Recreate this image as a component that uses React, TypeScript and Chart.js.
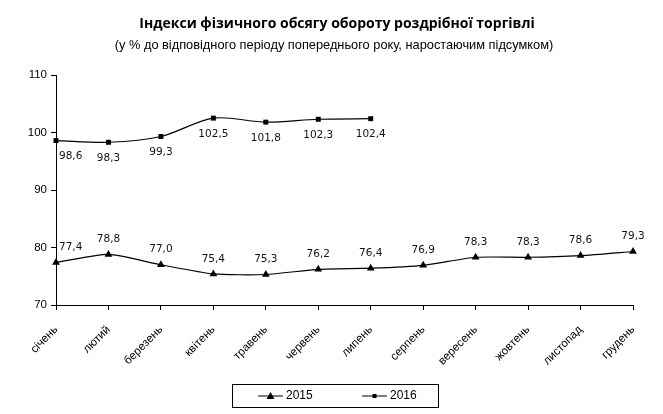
import React, { useEffect, useRef } from "react";
import { Chart, registerables } from "chart.js";

Chart.register(...registerables);

const titleText = "Індекси фізичного обсягу обороту роздрібної торгівлі";
const subtitleText = "(у % до відповідного періоду попереднього року, наростаючим підсумком)";

const months = [
  "січень", "лютий", "березень", "квітень", "травень", "червень",
  "липень", "серпень", "вересень", "жовтень", "листопад", "грудень",
];

const values2015 = [77.4, 78.8, 77.0, 75.4, 75.3, 76.2, 76.4, 76.9, 78.3, 78.3, 78.6, 79.3];
const values2016 = [98.6, 98.3, 99.3, 102.5, 101.8, 102.3, 102.4, null, null, null, null, null];

const yMin = 70;
const yMax = 110;
const yStep = 10;

const fmt = (v: number) => v.toFixed(1).replace(".", ",");

const labelsPlugin = {
  id: "valueLabels",
  afterDatasetsDraw(chart: any) {
    const ctx = chart.ctx;
    ctx.save();
    ctx.font = "10.5px 'DejaVu Sans'";
    ctx.fillStyle = "#111";
    ctx.textBaseline = "middle";
    chart.data.datasets.forEach((ds: any, di: number) => {
      const meta = chart.getDatasetMeta(di);
      const below = ds.labelPos === "below";
      meta.data.forEach((pt: any, i: number) => {
        const v = ds.data[i];
        if (v === null || v === undefined) return;
        const dx = i === 0 ? 3 : 0;
        ctx.textAlign = i === 0 ? "left" : "center";
        ctx.fillText(fmt(v), pt.x + dx, pt.y + (below ? 16 : -15));
      });
    });
    ctx.restore();
  },
};

const decorPlugin = {
  id: "decor",
  afterDraw(chart: any) {
    const ctx = chart.ctx;
    ctx.save();
    ctx.fillStyle = "#000";
    ctx.textAlign = "center";
    ctx.textBaseline = "middle";
    ctx.font = "bold 14px 'Open Sans'";
    ctx.fillText(titleText, 337, 24);
    ctx.font = "12.8px 'Liberation Sans'";
    ctx.fillText(subtitleText, 334, 45);

    // legend
    const bx = 232, by = 384, bw = 206, bh = 23;
    ctx.strokeStyle = "#000";
    ctx.lineWidth = 1;
    ctx.strokeRect(bx + 0.5, by + 0.5, bw, bh);
    const starts = [258, 362];
    const cy = by + bh / 2 + 0.5;
    chart.data.datasets.forEach((ds: any, i: number) => {
      const x = starts[i];
      ctx.beginPath();
      ctx.moveTo(x, cy);
      ctx.lineTo(x + 25, cy);
      ctx.strokeStyle = "#000";
      ctx.lineWidth = 1;
      ctx.stroke();
      ctx.fillStyle = "#000";
      if (ds.pointStyle === "triangle") {
        ctx.beginPath();
        ctx.moveTo(x + 12.5, cy - 4);
        ctx.lineTo(x + 16.5, cy + 3);
        ctx.lineTo(x + 8.5, cy + 3);
        ctx.closePath();
        ctx.fill();
      } else {
        ctx.fillRect(x + 10.5, cy - 2, 4, 4);
      }
      ctx.font = "12px 'Liberation Sans'";
      ctx.textAlign = "left";
      ctx.fillText(ds.label, x + 28, cy);
    });
    ctx.restore();
  },
};

export default function App() {
  const ref = useRef<HTMLCanvasElement>(null);
  useEffect(() => {
    document.body.style.margin = "0";
    const chart = new Chart(ref.current!, {
      type: "line",
      data: {
        labels: months,
        datasets: [
          {
            label: "2015",
            data: values2015,
            borderColor: "#000",
            backgroundColor: "#000",
            borderWidth: 1.2,
            pointStyle: "triangle",
            pointRadius: 4.5,
            pointBorderWidth: 0,
            tension: 0.2,
            labelPos: "above",
          } as any,
          {
            label: "2016",
            data: values2016,
            borderColor: "#000",
            backgroundColor: "#000",
            borderWidth: 1.2,
            pointStyle: "rect",
            pointRadius: 3.5,
            pointBorderWidth: 0,
            tension: 0.3,
            spanGaps: false,
            labelPos: "below",
          } as any,
        ],
      },
      options: {
        animation: false,
        responsive: false,
        layout: { padding: { top: 75, right: 30, left: 0, bottom: 0 } },
        plugins: {
          legend: { display: false },
          title: { display: false },
          tooltip: { enabled: false },
        },
        scales: {
          x: {
            offset: false,
            afterFit: (s: any) => { s.height = 109; },
            grid: { drawOnChartArea: false, color: "#000", tickLength: 5, tickColor: "#000" },
            border: { color: "#000", width: 1 },
            ticks: {
              color: "#000",
              font: { family: "'Liberation Sans'", size: 11.5 },
              minRotation: 45,
              maxRotation: 45,
              autoSkip: false,
              padding: 13,
            },
          },
          y: {
            min: yMin,
            max: yMax,
            afterFit: (s: any) => { s.width = 56; },
            grid: { drawOnChartArea: false, color: "#000", tickLength: 5, tickColor: "#000" },
            border: { color: "#000", width: 1 },
            ticks: {
              stepSize: yStep,
              color: "#000",
              font: { family: "'Liberation Sans'", size: 11.5 },
              padding: 4,
            },
          },
        },
      },
      plugins: [labelsPlugin, decorPlugin],
    });
    return () => chart.destroy();
  }, []);
  return (
    <div style={{ width: 663, height: 414, background: "#fff" }}>
      <canvas ref={ref} width={663} height={414} />
    </div>
  );
}
